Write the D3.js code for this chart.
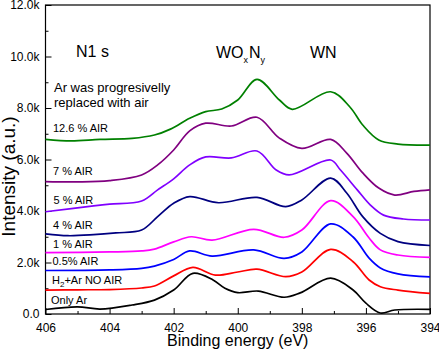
<!DOCTYPE html>
<html>
<head>
<meta charset="utf-8">
<script src="https://cdn.jsdelivr.net/npm/d3@7"></script>
<style>
	body { margin: 0; background: #fff; }
	svg { display: block; font-family: "Liberation Sans", Arial, sans-serif; }
	.tick-label { font-size: 12px; fill: #000; }
	.curve-label { font-size: 11px; fill: #000; }
</style>
</head>
<body>
<div id="main-view"></div>
<script>
// binding energy (eV), intensity (counts)
var onlyAr = [[406, 175], [405, 280], [404.3, 190], [403.3, 350], [402.6, 540], [402, 930], [401.4, 1580], [400.77, 1320], [400.4, 1000], [400, 830], [399.36, 890], [398.55, 650], [398.05, 820], [397.1, 1390], [396.4, 930], [396, 420], [395.55, 40], [395.1, 155], [394, 180]];
var h2Ar = [[406, 930], [405, 940], [404, 950], [403, 1010], [402.6, 1090], [402, 1480], [401.4, 1810], [400.7, 1510], [400, 1630], [399.4, 1740], [398.5, 1450], [398, 1630], [397.1, 2510], [396.4, 2030], [395.9, 1320], [395.55, 1060], [395, 930], [394, 800]];
var air05 = [[406, 1690], [404, 1710], [403, 1770], [402.6, 1860], [402, 2120], [401.5, 2450], [400.8, 2250], [399.5, 2490], [398.55, 2160], [398, 2410], [397.1, 3500], [396.4, 2990], [395.9, 2170], [395.55, 1790], [395, 1560], [394, 1440]];
var air1 = [[406, 2380], [404, 2410], [403, 2450], [402.6, 2520], [402, 2800], [401.45, 3000], [400.8, 2870], [399.5, 3290], [398.55, 2980], [398, 3260], [397.1, 4400], [396.4, 3780], [395.9, 2950], [395.55, 2490], [395, 2290], [394, 2200]];
var air4 = [[406, 3110], [405.3, 3040], [404.5, 3080], [403.8, 3150], [403, 3260], [402.5, 3780], [402, 4300], [401.5, 4560], [400.6, 4320], [399.4, 4530], [398.5, 4170], [398, 4430], [397.1, 5280], [396.6, 4700], [396.1, 3780], [395.55, 3130], [395, 2810], [394, 2660]];
var air5 = [[406, 3970], [404.5, 4200], [404, 4270], [403, 4390], [402.5, 4820], [402, 5250], [401.5, 5790], [401, 6100], [400.2, 6060], [399.4, 6330], [398.8, 5590], [398.4, 5400], [397.1, 5980], [396.8, 5600], [396.27, 4820], [395.86, 4230], [395.45, 3840], [394.83, 3690], [394, 3650]];
var air7 = [[406, 5140], [405, 5130], [404, 5180], [403, 5400], [402.5, 5790], [402, 6370], [401.5, 7110], [401, 7410], [400.2, 7300], [399.4, 7640], [398.7, 6830], [398, 6430], [397.1, 6780], [396.6, 6250], [396.1, 5480], [395.6, 4890], [395.1, 4620], [394.5, 4760], [394, 4820]];
var air126 = [[406, 6780], [405.2, 6720], [404.3, 6780], [403.3, 6820], [402.6, 6950], [402.1, 7180], [401.5, 7600], [401, 7860], [400.5, 7960], [400, 8310], [399.4, 9110], [398.7, 8310], [398.3, 7950], [397.1, 8630], [396.5, 8040], [396.1, 7340], [395.6, 6760], [395, 6600], [394, 6560]];

var seriesNames = ["Only Ar", "H2+Ar NO AIR", "0.5% AIR", "1 % AIR", "4 % AIR", "5 % AIR", "7 % AIR", "12.6 % AIR"];
var seriesData = [onlyAr, h2Ar, air05, air1, air4, air5, air7, air126];
var seriesColors = ["#000000", "#ff0000", "#0000ff", "#ff00ff", "#000080", "#8000ff", "#800080", "#008000"];
var labelBaselines = [304, 284, 265, 248, 229, 203.5, 175, 131.5];
var labelLefts = [51, 52, 52.5, 53, 53, 53.5, 53, 53];

var xTicks = [406, 404, 402, 400, 398, 396, 394];
var yTicks = [0, 2000, 4000, 6000, 8000, 10000, 12000];
var yTickLabels = ["0.0", "2.0k", "4.0k", "6.0k", "8.0k", "10.0k", "12.0k"];

var width = 439, height = 350;
var plotLeft = 45.5, plotRight = 430, plotTop = 5, plotBottom = 314;

var svg = d3.select("#main-view").append("svg")
	.attr("width", width)
	.attr("height", height);

var x = d3.scaleLinear().domain([406, 394]).range([plotLeft, plotRight]);
var y = d3.scaleLinear().domain([0, 12000]).range([plotBottom, plotTop]);

// minor ticks
var xMinor = d3.range(405, 394, -2);
var yMinor = d3.range(1000, 12000, 2000);

var xAxis = svg.append("g")
	.attr("transform", "translate(0," + plotBottom + ")")
	.call(d3.axisBottom(x).tickValues(xTicks).tickSize(-6).tickPadding(9).tickFormat(d3.format("d")));
xAxis.select(".domain").remove();
xAxis.selectAll("text").attr("class", "tick-label").attr("font-size", null).attr("font-family", null);

svg.append("g")
	.attr("transform", "translate(0," + plotBottom + ")")
	.call(d3.axisBottom(x).tickValues(xMinor).tickSize(-3).tickFormat(""))
	.select(".domain").remove();

var yAxis = svg.append("g")
	.attr("transform", "translate(" + plotLeft + ",0)")
	.call(d3.axisLeft(y).tickValues(yTicks).tickSize(-6).tickPadding(6).tickFormat(function(d, i) {
		return yTickLabels[i];
	}));
yAxis.select(".domain").remove();
yAxis.selectAll("text").attr("class", "tick-label").attr("font-size", null).attr("font-family", null);

svg.append("g")
	.attr("transform", "translate(" + plotLeft + ",0)")
	.call(d3.axisLeft(y).tickValues(yMinor).tickSize(-3).tickFormat(""))
	.select(".domain").remove();

// frame
svg.append("rect")
	.attr("x", plotLeft)
	.attr("y", plotTop)
	.attr("width", plotRight - plotLeft)
	.attr("height", plotBottom - plotTop)
	.attr("fill", "none")
	.attr("stroke", "#000")
	.attr("stroke-width", 1.2);

var line = d3.line()
	.x(function(d) { return x(d[0]); })
	.y(function(d) { return y(d[1]); })
	.curve(d3.curveCatmullRom.alpha(0.5));

svg.selectAll(".spectrum")
	.data(seriesData)
	.enter()
	.append("path")
	.attr("class", "spectrum")
	.attr("d", line)
	.attr("fill", "none")
	.attr("stroke", function(d, i) { return seriesColors[i]; })
	.attr("stroke-width", 1.7);

// curve labels
seriesNames.forEach(function(name, i) {
	var t = svg.append("text")
		.attr("class", "curve-label")
		.attr("x", labelLefts[i])
		.attr("y", labelBaselines[i]);
	if (name.indexOf("H2") === 0) {
		t.append("tspan").text("H");
		t.append("tspan").attr("font-size", "8px").attr("dy", 3).text("2");
		t.append("tspan").attr("dy", -3).text("+Ar NO AIR");
	} else {
		t.text(name);
	}
});

svg.append("text")
	.attr("x", 76).attr("y", 57)
	.attr("font-size", "16px")
	.text("N1 s");

svg.append("text")
	.attr("x", 54).attr("y", 92)
	.attr("font-size", "13px")
	.text("Ar was progresivelly");
svg.append("text")
	.attr("x", 54).attr("y", 106.5)
	.attr("font-size", "13px")
	.text("replaced with air");

var wo = svg.append("text")
	.attr("x", 216).attr("y", 58)
	.attr("font-size", "16px");
wo.append("tspan").text("WO");
wo.append("tspan").attr("font-size", "9px").attr("dy", 5).text("x");
wo.append("tspan").attr("dy", -5).attr("dx", 1).text("N");
wo.append("tspan").attr("font-size", "9px").attr("dy", 5).text("y");

svg.append("text")
	.attr("x", 310).attr("y", 58)
	.attr("font-size", "16px")
	.text("WN");

// axis titles
svg.append("text")
	.attr("x", (plotLeft + plotRight) / 2).attr("y", 346)
	.attr("text-anchor", "middle")
	.attr("font-size", "16px")
	.text("Binding energy (eV)");

svg.append("text")
	.attr("transform", "translate(15,176.5) rotate(-90)")
	.attr("text-anchor", "middle")
	.attr("font-size", "19px")
	.text("Intensity (a.u.)");
</script>
</body>
</html>
